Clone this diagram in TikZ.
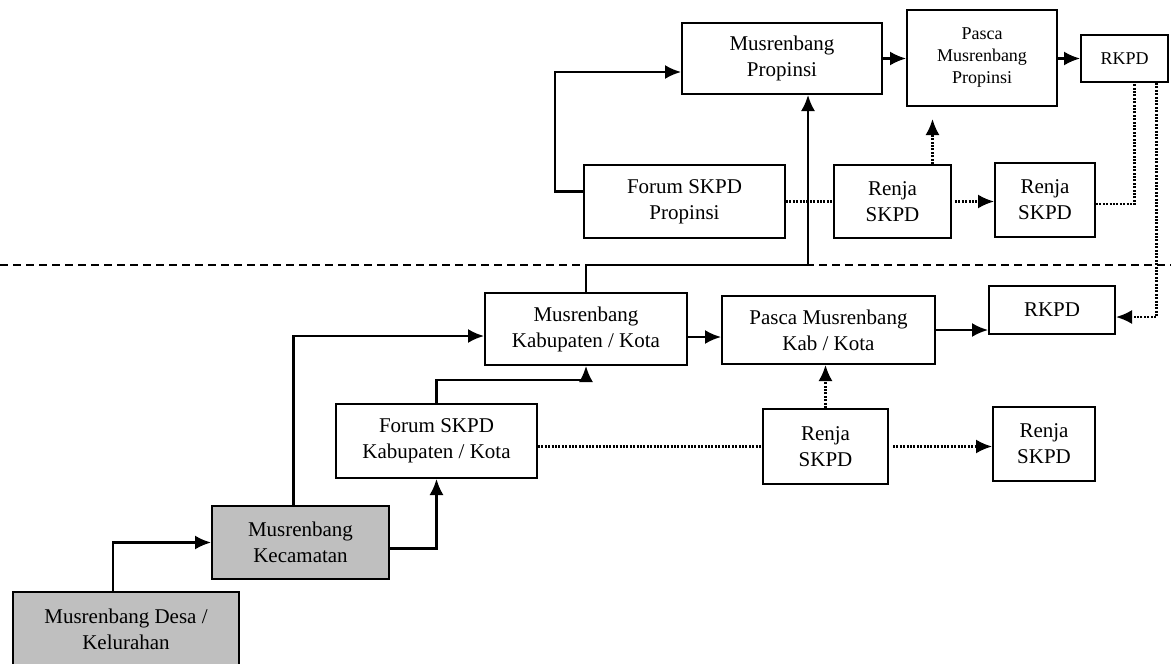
\documentclass[tikz,border=0pt]{standalone}
\usepackage{fontspec}
\setmainfont{Liberation Serif}
\usetikzlibrary{arrows.meta}

\begin{document}
\begin{tikzpicture}[x=1pt,y=-1pt]
\tikzstyle{box}=[rectangle, draw=black, line width=2pt, align=center, inner sep=0pt, font=\fontsize{21}{26}\selectfont]
\tikzstyle{shaded}=[box, fill=black!25]
\tikzstyle{small}=[font=\fontsize{18}{22}\selectfont]
\tikzstyle{connect}=[-{Latex[length=16pt,width=14pt]}, line width=2.2pt]
\tikzstyle{dots}=[line width=2.2pt, dash pattern=on 2pt off 1.4pt]
\tikzstyle{dotconnect}=[dots, -{Latex[length=16pt,width=14pt]}]
\tikzstyle{dashline}=[line width=1.8pt, dash pattern=on 8pt off 5pt]
\path[clip, use as bounding box] (0,0) rectangle (1171,664);

% border between province and regency level
\coordinate (dl) at (0,265);
\coordinate (dr) at (1171,265);
\draw[dashline] (dl) -- (dr);

% province level
\node[box, minimum width=200pt, minimum height=71pt] (MusProp) at (782,58.5) {Musrenbang\\Propinsi};
\node[box, small, minimum width=150pt, minimum height=96pt] (PascaProp) at (982,58) {Pasca\\Musrenbang\\Propinsi};
\node[box, small, minimum width=87pt, minimum height=47pt] (RkpdProp) at (1124.5,58.5) {RKPD};
\node[box, minimum width=201pt, minimum height=73pt] (ForumProp) at (684.5,201.5) {Forum SKPD\\Propinsi};
\node[box, minimum width=117pt, minimum height=73pt] (RenjaProp) at (892.5,201.5) {Renja\\SKPD};
\node[box, minimum width=100pt, minimum height=74pt] (RenjaPropB) at (1045,200) {Renja\\SKPD};

% regency / city level
\node[box, minimum width=202pt, minimum height=72pt] (MusKab) at (586,329) {Musrenbang\\Kabupaten / Kota};
\node[box, minimum width=213pt, minimum height=68pt] (PascaKab) at (828.5,330) {Pasca Musrenbang\\Kab / Kota};
\node[box, minimum width=126pt, minimum height=48pt] (RkpdKab) at (1052,310) {RKPD};
\node[box, minimum width=201pt, minimum height=74pt] (ForumKab) at (436.5,441) {Forum SKPD\\Kabupaten / Kota};
\node[box, minimum width=125pt, minimum height=75pt] (RenjaKab) at (825.5,446.5) {Renja\\SKPD};
\node[box, minimum width=102pt, minimum height=74pt] (RenjaKabB) at (1044,444) {Renja\\SKPD};
\node[shaded, minimum width=177pt, minimum height=73pt] (Kec) at (300.5,542.5) {Musrenbang\\Kecamatan};
\node[shaded, minimum width=226pt, minimum height=74pt] (Desa) at (126,629) {Musrenbang Desa /\\Kelurahan};

% solid flow
\draw[connect] ([xshift=-13pt]Desa.north) |- (Kec.west);
\draw[connect] ([xshift=-7pt]Kec.north) |- ([yshift=-7pt]MusKab.west);
\draw[connect] ([yshift=-6pt]Kec.east) -| (ForumKab.south);
\draw[connect] (ForumKab.north) -- ++(0,-23) -| (MusKab.south);
\draw[connect] (MusKab.north) -- (MusKab.north |- dl) -| ([xshift=26pt]MusProp.south);
\draw[connect] ([yshift=10pt]ForumProp.west) -- ++(-28,0) |- ([yshift=-13.5pt]MusProp.west);
\path
  ([yshift=-8pt]MusKab.east) edge [connect] ([yshift=-8pt]MusKab.east -| PascaKab.west)
  (PascaKab.east) edge [connect] (PascaKab.east -| RkpdKab.west)
  (MusProp.east) edge [connect] (MusProp.east -| PascaProp.west)
  (PascaProp.east |- RkpdProp.west) edge [connect] (RkpdProp.west);

% dotted flow
\path
  (ForumKab.east |- RenjaKab.west) edge [dots] (RenjaKab.west)
  (RenjaKab.north) edge [dotconnect] (RenjaKab.north |- PascaKab.south)
  ([xshift=4pt]RenjaKab.east) edge [dotconnect] (RenjaKab.east -| RenjaKabB.west)
  (ForumProp.east) edge [dots] (RenjaProp.west)
  ([xshift=40pt]RenjaProp.north) edge [dotconnect, shorten >=12pt] ([xshift=40pt]RenjaProp.north |- PascaProp.south)
  ([xshift=3pt]RenjaProp.east) edge [dotconnect] (RenjaProp.east -| RenjaPropB.west);
\draw[dots] ([yshift=-4pt]RenjaPropB.east) -| ([xshift=10pt]RkpdProp.south);
\draw[dotconnect] ([xshift=32pt]RkpdProp.south) |- ([yshift=-7pt]RkpdKab.east);
\end{tikzpicture}
\end{document}
